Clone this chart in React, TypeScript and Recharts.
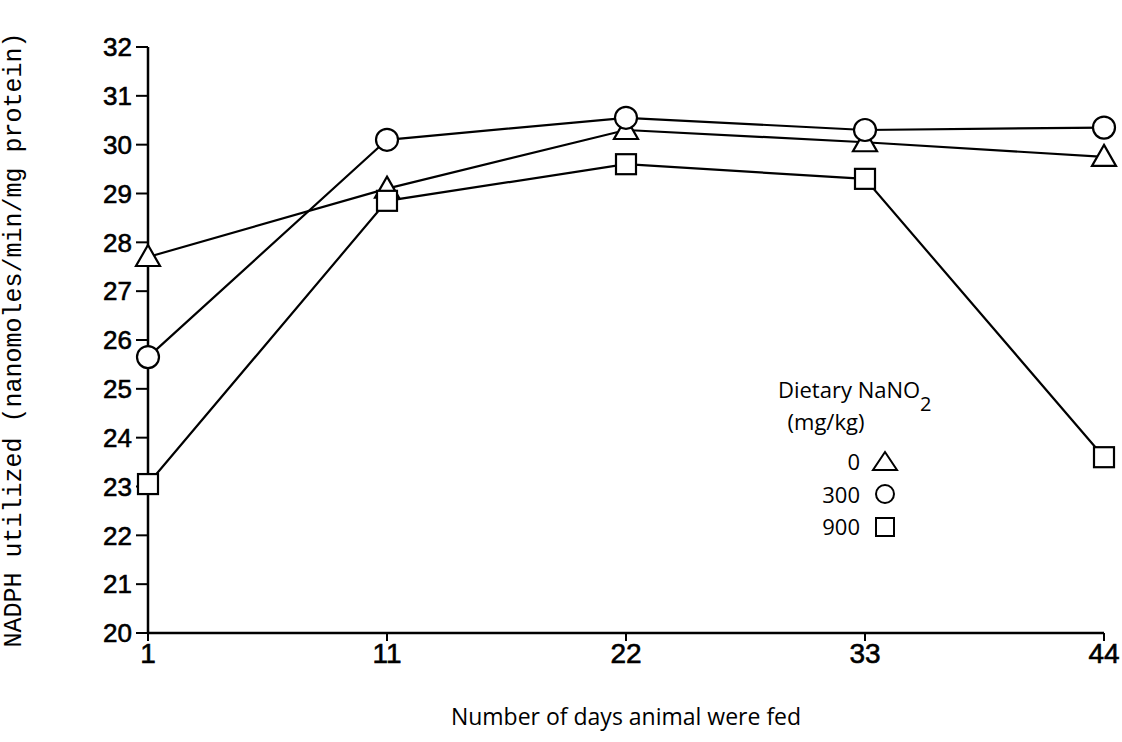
import React from 'react';
import { LineChart, Line, XAxis, YAxis, Label } from 'recharts';

const days = ['1', '11', '22', '33', '44'];
const dose0 = [27.7, 29.1, 30.3, 30.05, 29.75];
const dose300 = [25.65, 30.1, 30.55, 30.3, 30.35];
const dose900 = [23.05, 28.85, 29.6, 29.3, 23.6];
const yTicks = [20, 21, 22, 23, 24, 25, 26, 27, 28, 29, 30, 31, 32];

const data = days.map((d, i) => ({
  day: d,
  d0: dose0[i],
  d300: dose300[i],
  d900: dose900[i],
}));

const tickFont = "'Liberation Sans', Arial, sans-serif";
const labelFont = "'Open Sans', 'DejaVu Sans', sans-serif";

const TriangleDot = (props: any) => {
  const { cx, cy, index } = props;
  const s = 12;
  return (
    <path
      key={`t-${index}`}
      d={`M${cx},${cy - s} L${cx + s},${cy + s * 0.75} L${cx - s},${cy + s * 0.75} Z`}
      fill="#fff"
      stroke="#000"
      strokeWidth={2.2}
    />
  );
};

const CircleDot = (props: any) => {
  const { cx, cy, index } = props;
  return <circle key={`c-${index}`} cx={cx} cy={cy} r={11} fill="#fff" stroke="#000" strokeWidth={2.2} />;
};

const SquareDot = (props: any) => {
  const { cx, cy, index } = props;
  return (
    <rect key={`s-${index}`} x={cx - 10} y={cy - 10} width={20} height={20} fill="#fff" stroke="#000" strokeWidth={2.2} />
  );
};

export default function App() {
  return (
    <div style={{ position: 'absolute', left: 0, top: 0, width: 1122, height: 742, background: '#fff' }}>
      <LineChart
        width={1122}
        height={742}
        data={data}
        margin={{ top: 47, right: 18, bottom: 49, left: 0 }}
      >
        <XAxis
          dataKey="day"
          height={60}
          axisLine={{ stroke: '#000', strokeWidth: 2.5 }}
          tickLine={{ stroke: '#000', strokeWidth: 2 }}
          tickSize={8}
          tick={{ fill: '#000', stroke: '#000', strokeWidth: 0.6, fontSize: 28, fontFamily: tickFont }}
          tickMargin={2}
        >
          <Label
            value="Number of days animal were fed"
            position="insideBottom"
            offset={-32}
            style={{ fill: '#000', fontSize: 23, fontFamily: labelFont }}
          />
        </XAxis>
        <YAxis
          type="number"
          domain={[20, 32]}
          ticks={yTicks}
          interval={0}
          width={148}
          axisLine={{ stroke: '#000', strokeWidth: 2.5 }}
          tickLine={{ stroke: '#000', strokeWidth: 2 }}
          tickSize={12}
          tickMargin={4}
          tick={{ fill: '#000', stroke: '#000', strokeWidth: 0.6, fontSize: 26, fontFamily: tickFont }}
        >
          <Label
            value="NADPH utilized (nanomoles/min/mg protein)"
            angle={-90}
            position="insideLeft"
            offset={12}
            style={{ fill: '#000', fontSize: 25, fontFamily: "'Liberation Mono', 'DejaVu Sans Mono', monospace", textAnchor: 'middle' }}
          />
        </YAxis>
        <Line dataKey="d0" stroke="#000" strokeWidth={2.2} dot={TriangleDot} isAnimationActive={false} />
        <Line dataKey="d300" stroke="#000" strokeWidth={2.2} dot={CircleDot} isAnimationActive={false} />
        <Line dataKey="d900" stroke="#000" strokeWidth={2.2} dot={SquareDot} isAnimationActive={false} />
      </LineChart>
      <svg
        width={1122}
        height={742}
        style={{ position: 'absolute', left: 0, top: 0, pointerEvents: 'none' }}
      >
        <g fontFamily={labelFont} fontSize={22} fill="#000">
          <text x={778} y={398}>Dietary NaNO</text>
          <text x={920} y={411} fontSize={20}>2</text>
          <text x={826} y={430} textAnchor="middle">(mg/kg)</text>
          <text x={860} y={470} textAnchor="end">0</text>
          <text x={860} y={503} textAnchor="end">300</text>
          <text x={860} y={535} textAnchor="end">900</text>
        </g>
        <path d="M885,452 L897,470 L873,470 Z" fill="none" stroke="#000" strokeWidth={2} />
        <circle cx={885} cy={494} r={9} fill="none" stroke="#000" strokeWidth={2} />
        <rect x={876} y={518} width={18} height={18} fill="none" stroke="#000" strokeWidth={2} />
      </svg>
    </div>
  );
}
